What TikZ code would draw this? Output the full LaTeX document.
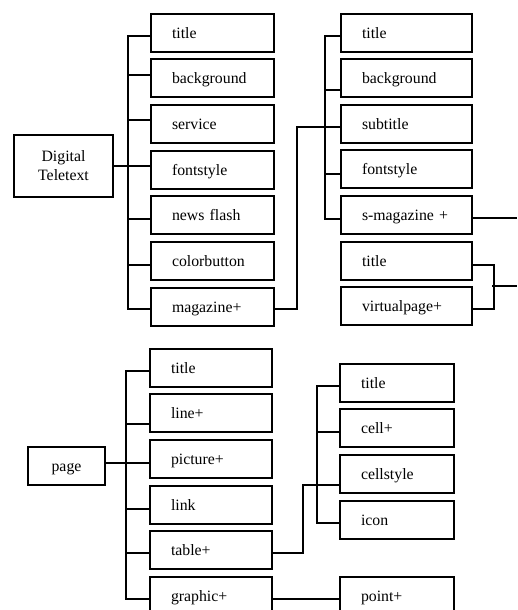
\documentclass[tikz,border=0pt]{standalone}
\usepackage{fontspec}
\setmainfont{Liberation Serif}
\begin{document}
\begin{tikzpicture}[x=1pt,y=-1pt,
  lw/.style={line width=2pt},
  box/.style={draw,lw,rectangle,anchor=north west,minimum height=38pt,
    inner xsep=21pt,inner ysep=0pt,text height=11pt,text depth=0pt,align=left,
    font=\fontsize{15.8}{19}\selectfont},
  wA/.style={box,minimum width=123pt,text width=81pt},
  wB/.style={box,minimum width=131pt,text width=89pt},
  wC/.style={box,minimum width=122pt,text width=80pt},
  wD/.style={box,minimum width=114pt,text width=72pt},
  conn/.style={lw}]
\useasboundingbox (0,0) rectangle (517,610);
\clip (0,0) rectangle (517,610);

% ---- top tree ----
\node[draw,lw,anchor=north west,minimum width=99pt,minimum height=62pt,inner sep=0pt,
  align=center,font=\fontsize{15.8}{19}\selectfont] (dt) at (13,134) {Digital\\Teletext};
\node[wA] (t1)  at (150,13)  {title};
\node[wA] (bg1) at (150,58)  {background};
\node[wA] (sv1) at (150,104) {service};
\node[wA] (fs1) at (150,150) {fontstyle};
\node[wA] (nf1) at (150,195) {news flash};
\node[wA] (cb1) at (150,241) {colorbutton};
\node[wA] (mg1) at (150,287) {magazine+};

\node[wB] (t2)  at (340,13)  {title};
\node[wB] (bg2) at (340,58)  {background};
\node[wB] (st2) at (340,104) {subtitle};
\node[wB] (fs2) at (340,149) {fontstyle};
\node[wB] (sm2) at (340,195) {s-magazine +};
\node[wB] (t3)  at (340,241) {title};
\node[wB] (vp)  at (340,286) {virtualpage+};

\draw[conn] (dt.east) -- (dt.east -| fs1.west);
\draw[conn] ([yshift=-3pt]t1.west) -- ++(-22,0) |- ([yshift=-2pt]mg1.west);
\draw[conn] ([yshift=3pt]bg1.west) -- ++(-22,0);
\draw[conn] ([yshift=4pt]sv1.west) -- ++(-22,0);
\draw[conn] ([yshift=-4pt]nf1.west) -- ++(-22,0);
\draw[conn] ([yshift=-4pt]cb1.west) -- ++(-22,0);

\draw[conn] ([yshift=-2pt]mg1.east) -- ++(22,0) |- ([yshift=-2.5pt]st2.west);
\draw[conn] ([yshift=-3pt]t2.west) -- ++(-15,0) |- ([yshift=-4pt]sm2.west);
\draw[conn] ([yshift=-11.5pt]bg2.west) -- ++(-15,0);
\draw[conn] ([yshift=-4.5pt]fs2.west) -- ++(-15,0);

\coordinate (r1) at (517,218);
\draw[conn] (r1 -| sm2.east) -- (r1);
\draw[conn] ([yshift=-4pt]t3.east) -- ++(21,0) |- ([yshift=-2.5pt]vp.east);
\coordinate (j2) at (492,286);
\coordinate (r2) at (517,286);
\draw[conn] (j2) -- (r2);

% ---- bottom tree ----
\node[box,anchor=north west,minimum width=77pt,inner xsep=0pt,align=center] (pg) at (27,446) {page};
\node[wC] (t4)  at (149,348) {title};
\node[wC] (ln)  at (149,393) {line+};
\node[wC] (pic) at (149,439) {picture+};
\node[wC] (lk)  at (149,485) {link};
\node[wC] (tb)  at (149,530) {table+};
\node[wC] (gr)  at (149,576) {graphic+};

\node[wD] (t5) at (339,363) {title};
\node[wD] (cl) at (339,408) {cell+};
\node[wD] (cs) at (339,454) {cellstyle};
\node[wD] (ic) at (339,500) {icon};
\node[wD] (pt) at (339,576) {point+};

\draw[conn] ([yshift=3pt]pg.east) -- ([yshift=-4pt]pic.west);
\draw[conn] ([yshift=-3pt]t4.west) -- ++(-23,0) |- ([yshift=-3pt]gr.west);
\draw[conn] ([yshift=-11pt]ln.west) -- ++(-23,0);
\draw[conn] ([yshift=-3.5pt]lk.west) -- ++(-23,0);
\draw[conn] ([yshift=-3pt]tb.west) -- ++(-23,0);

\draw[conn] ([yshift=-3pt]tb.east) -- ++(30,0) |- ([yshift=-11pt]cs.west);
\draw[conn] ([yshift=-3pt]t5.west) -- ++(-22,0) |- ([yshift=-3pt]ic.west);
\draw[conn] ([yshift=-4pt]cl.west) -- ++(-22,0);
\draw[conn] ([yshift=-3pt]gr.east) -- ([yshift=-3pt]pt.west);
\end{tikzpicture}
\end{document}
